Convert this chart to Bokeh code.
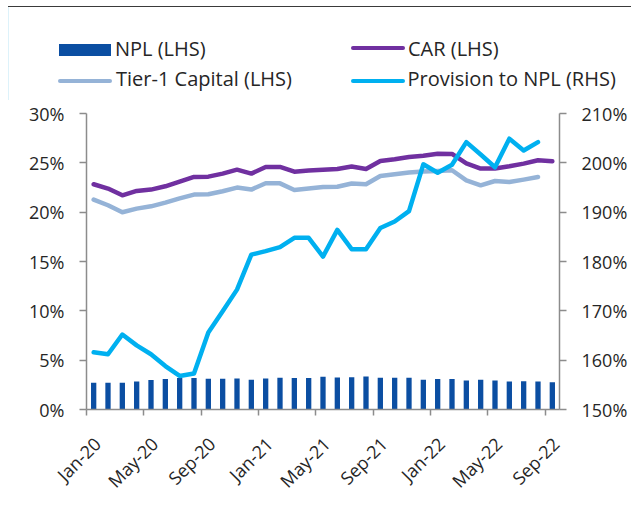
import numpy as np
from bokeh.plotting import figure
from bokeh.layouts import column
from bokeh.models import (Range1d, LinearAxis, FixedTicker, PrintfTickFormatter, Div)
from bokeh.embed import file_html
from bokeh.resources import INLINE

months = ["Jan-20", "Feb-20", "Mar-20", "Apr-20", "May-20", "Jun-20", "Jul-20", "Aug-20",
          "Sep-20", "Oct-20", "Nov-20", "Dec-20", "Jan-21", "Feb-21", "Mar-21", "Apr-21",
          "May-21", "Jun-21", "Jul-21", "Aug-21", "Sep-21", "Oct-21", "Nov-21", "Dec-21",
          "Jan-22", "Feb-22", "Mar-22", "Apr-22", "May-22", "Jun-22", "Jul-22", "Aug-22",
          "Sep-22"]
npl = [2.71, 2.71, 2.71, 2.84, 2.98, 3.08, 3.18, 3.18, 3.11, 3.11, 3.14, 3.01, 3.14,
       3.21, 3.18, 3.18, 3.31, 3.25, 3.28, 3.35, 3.21, 3.21, 3.21, 3.01, 3.08, 3.08,
       2.94, 3.01, 2.94, 2.84, 2.87, 2.84, 2.77]
car = [22.83, 22.39, 21.71, 22.15, 22.29, 22.62, 23.10, 23.57, 23.60, 23.91, 24.31, 23.91,
       24.58, 24.58, 24.10, 24.23, 24.31, 24.38, 24.62, 24.38, 25.19, 25.37, 25.60, 25.72,
       25.92, 25.90, 24.95, 24.42, 24.42, 24.65, 24.92, 25.26, 25.16]
tier1 = [21.27, 20.70, 19.99, 20.36, 20.59, 20.97, 21.40, 21.78, 21.81, 22.12, 22.49, 22.29,
         22.93, 22.92, 22.25, 22.40, 22.54, 22.57, 22.90, 22.83, 23.67, 23.84, 24.01, 24.11,
         24.18, 24.25, 23.23, 22.72, 23.16, 23.06, 23.30, 23.57]
prov = [161.6, 161.2, 165.2, 163.0, 161.2, 158.8, 156.8, 157.3, 165.6, 169.9, 174.3, 181.4,
        182.1, 182.9, 184.8, 184.8, 181.0, 186.4, 182.5, 182.5, 186.8, 188.1, 190.2, 199.7,
        198.0, 199.6, 204.2, 201.7, 199.1, 204.9, 202.5, 204.2]
series_names = ["NPL (LHS)", "CAR (LHS)", "Tier-1 Capital (LHS)", "Provision to NPL (RHS)"]
lhs_ticks = [0, 5, 10, 15, 20, 25, 30]
rhs_ticks = [150, 160, 170, 180, 190, 200, 210]
label_step = 4

BAR = "#0B4EA2"
CAR_C = "#7030A0"
TIER_C = "#95B3D7"
PROV_C = "#00B0F0"
AXIS_C = "#8C8C8C"
TEXT_C = "#262626"
FONT = "Open Sans"
FS = "18px"
LW = 4.5

W, H = 631, 510
LEG_H = 100

n = len(months)
idx = np.arange(n)
xc = idx + 0.5

# ---------------- legend strip (HTML, real text) ----------------
def sw_rect(left, top, color):
    return (f'<div style="position:absolute;left:{left}px;top:{top}px;width:52px;'
            f'height:12px;background:{color};"></div>')

def sw_line(left, top, color):
    return (f'<div style="position:absolute;left:{left}px;top:{top}px;width:54px;'
            f'height:4.5px;border-radius:2.25px;background:{color};"></div>')

def lab(left, top, txt):
    return (f'<span style="position:absolute;left:{left}px;top:{top}px;line-height:24px;'
            f'white-space:nowrap;">{txt}</span>')

legend_html = (
    f'<div style="position:relative;width:{W}px;height:{LEG_H}px;font-family:\'{FONT}\';'
    f'font-size:20px;color:{TEXT_C};overflow:visible;">'
    '<div style="position:absolute;left:8px;top:6px;right:0px;height:1px;background:#3A3A3A;"></div>'
    '<div style="position:absolute;left:8px;top:7px;bottom:0px;width:1px;background:#DDF2FA;"></div>'
    + sw_rect(59, 43.5, BAR) + lab(115, 36.8, series_names[0])
    + sw_line(351, 45.5, CAR_C) + lab(408, 36.8, series_names[1])
    + sw_line(58, 78.5, TIER_C) + lab(116, 66.6, series_names[2])
    + sw_line(351, 78.5, PROV_C) + lab(407.5, 66.6, series_names[3])
    + '</div>'
)
legend_div = Div(text=legend_html, width=W, height=LEG_H, margin=0)

# ---------------- main chart ----------------
p = figure(width=W, height=H - LEG_H, output_backend="svg", toolbar_location=None,
           x_range=Range1d(0, n), y_range=Range1d(lhs_ticks[0], lhs_ticks[-1]),
           min_border_left=86, min_border_right=72, min_border_top=113 - LEG_H,
           min_border_bottom=101, outline_line_color=None, margin=0)
p.extra_y_ranges = {"rhs": Range1d(rhs_ticks[0], rhs_ticks[-1])}
p.grid.visible = False

p.vbar(x=xc, top=npl, width=0.37, fill_color=BAR, line_color=None)
p.line(xc, car, line_color=CAR_C, line_width=LW, line_join="round", line_cap="round")
p.line(xc[:len(tier1)], tier1, line_color=TIER_C, line_width=LW,
       line_join="round", line_cap="round")
p.line(xc[:len(prov)], prov, line_color=PROV_C, line_width=LW,
       line_join="round", line_cap="round", y_range_name="rhs")

def style_axis(ax):
    ax.axis_line_color = AXIS_C
    ax.axis_line_width = 1.5
    ax.major_tick_line_color = AXIS_C
    ax.major_tick_line_width = 1.5
    ax.major_tick_in = 0
    ax.major_tick_out = 7
    ax.minor_tick_line_color = None
    ax.major_label_text_font = FONT
    ax.major_label_text_font_size = FS
    ax.major_label_text_color = TEXT_C

yl = p.yaxis[0]
style_axis(yl)
yl.ticker = FixedTicker(ticks=lhs_ticks)
yl.formatter = PrintfTickFormatter(format="%d%%")
yl.major_label_standoff = 15

yr = LinearAxis(y_range_name="rhs", ticker=FixedTicker(ticks=rhs_ticks),
                formatter=PrintfTickFormatter(format="%d%%"))
style_axis(yr)
yr.major_label_standoff = 15
p.add_layout(yr, "right")

xa = p.xaxis[0]
style_axis(xa)
label_pos = [float(i) + 0.75 for i in idx[::label_step]]
bounds = [float(i) for i in idx[::label_step]]
xa.ticker = FixedTicker(ticks=label_pos, minor_ticks=bounds)
xa.major_label_overrides = {pos: months[i] for pos, i in zip(label_pos, idx[::label_step])}
xa.major_tick_line_color = None
xa.major_tick_out = 0
xa.minor_tick_line_color = AXIS_C
xa.minor_tick_line_width = 1.5
xa.minor_tick_in = 0
xa.minor_tick_out = 6
xa.major_label_orientation = np.pi / 4
xa.major_label_standoff = 25

layout = column(legend_div, p, spacing=0)
open("out.html", "w").write(file_html(layout, INLINE))
